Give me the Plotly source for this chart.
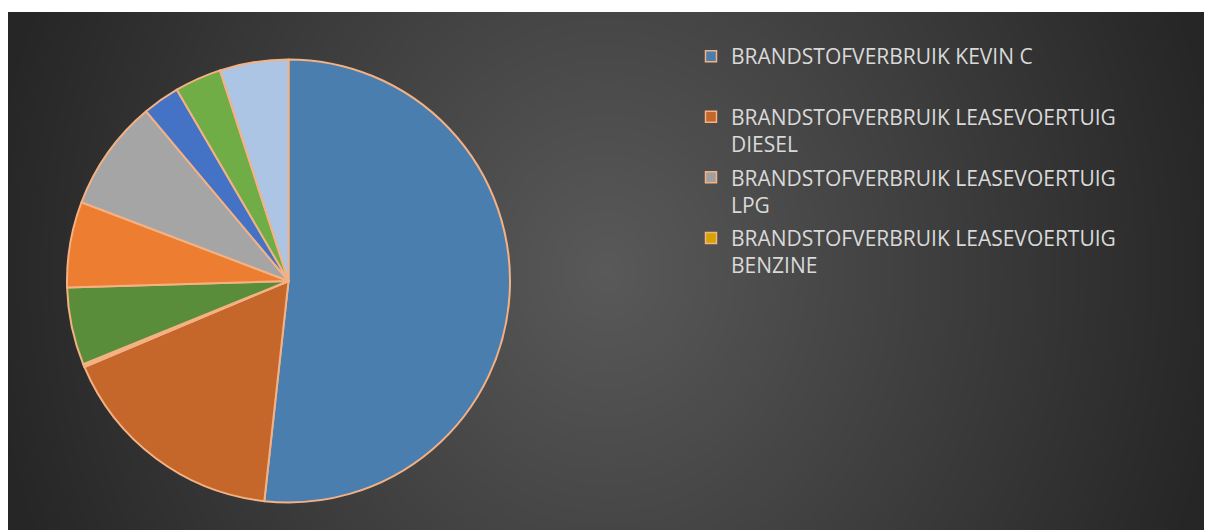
import base64
import struct
import zlib

import numpy as np
import plotly.graph_objects as go

# ---------------- data ----------------
labels = [
    "BRANDSTOFVERBRUIK KEVIN C",
    "BRANDSTOFVERBRUIK LEASEVOERTUIG DIESEL",
    "BRANDSTOFVERBRUIK LEASEVOERTUIG LPG",
    "BRANDSTOFVERBRUIK LEASEVOERTUIG BENZINE",
    "CATEGORIE 5",
    "CATEGORIE 6",
    "CATEGORIE 7",
    "CATEGORIE 8",
    "CATEGORIE 9",
    "CATEGORIE 10",
    "CATEGORIE 11",
]
values = [51.7, 16.9, 0.05, 0.05, 0.12, 5.65, 6.25, 8.1, 2.7, 3.4, 5.0]
colors = [
    "#4A7EAE", "#C5672A", "#A0A0A0", "#D4A500", "#4472C4",
    "#5A8D3A", "#ED7D31", "#A5A5A5", "#4472C4", "#70AD47", "#ADC5E5",
]
legend_labels = [
    "BRANDSTOFVERBRUIK KEVIN C<br> ",
    "BRANDSTOFVERBRUIK LEASEVOERTUIG<br>DIESEL",
    "BRANDSTOFVERBRUIK LEASEVOERTUIG<br>LPG",
    "BRANDSTOFVERBRUIK LEASEVOERTUIG<br>BENZINE",
]
legend_colors = ["#4A7EAE", "#C5672A", "#A0A0A0", "#D4A500"]

BORDER = "#F4B183"
W, H = 1205, 530

# ---------------- background gradient image ----------------
bx0, by0, bw, bh = 8, 12, 1196, 518
yy, xx = np.mgrid[0:bh, 0:bw].astype(float)
dx = (xx - 598) / 620.0
dy = (yy - 259) / 700.0
r = np.clip(np.sqrt(dx ** 2 + dy ** 2), 0, 1)
gray = (89 - 51 * r).round().astype(np.uint8)


def png_gray(arr):
    h, w = arr.shape
    raw = b"".join(b"\x00" + arr[i].tobytes() for i in range(h))

    def chunk(t, d):
        c = struct.pack(">I", len(d)) + t + d
        return c + struct.pack(">I", zlib.crc32(t + d) & 0xFFFFFFFF)

    ihdr = struct.pack(">IIBBBBB", w, h, 8, 0, 0, 0, 0)
    return (b"\x89PNG\r\n\x1a\n" + chunk(b"IHDR", ihdr)
            + chunk(b"IDAT", zlib.compress(raw, 9)) + chunk(b"IEND", b""))


bg_uri = "data:image/png;base64," + base64.b64encode(png_gray(gray)).decode()

# ---------------- figure ----------------
cx, cy, rad = 288.5, 281, 221.5
fig = go.Figure()
fig.add_trace(go.Pie(
    labels=labels,
    values=values,
    sort=False,
    direction="clockwise",
    rotation=0,
    textinfo="none",
    showlegend=False,
    marker=dict(colors=colors, line=dict(color=BORDER, width=2)),
    domain=dict(x=[(cx - rad) / W, (cx + rad) / W],
                y=[1 - (cy + rad) / H, 1 - (cy - rad) / H]),
))

for i, (lab, col) in enumerate(zip(legend_labels, legend_colors)):
    fig.add_trace(go.Scatter(
        x=[None], y=[None], mode="markers", name=lab,
        legendgroup=f"g{i}",
        marker=dict(symbol="square", size=11, color=col,
                    line=dict(color=BORDER, width=1.5)),
    ))

fig.update_layout(
    width=W, height=H,
    margin=dict(l=0, r=0, t=0, b=0),
    paper_bgcolor="white",
    plot_bgcolor="rgba(0,0,0,0)",
    xaxis=dict(visible=False),
    yaxis=dict(visible=False),
    images=[dict(source=bg_uri, xref="paper", yref="paper",
                 x=bx0 / W, y=1 - by0 / H, sizex=bw / W, sizey=bh / H,
                 xanchor="left", yanchor="top", sizing="stretch",
                 layer="below")],
    legend=dict(
        x=(691) / W, y=1 - 36 / H, xanchor="left", yanchor="top",
        valign="top", tracegroupgap=3,
        bgcolor="rgba(0,0,0,0)",
        font=dict(family="Open Sans", size=21, color="#D9D9D9"),
    ),
)

fig.write_html("out.html")
